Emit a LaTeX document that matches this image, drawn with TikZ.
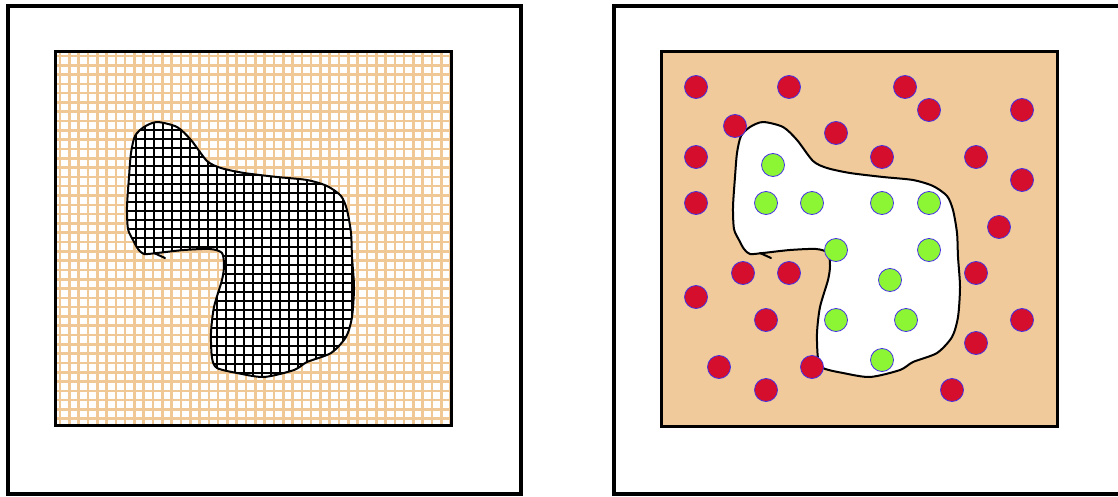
\documentclass[tikz,border=0pt]{standalone}

\definecolor{sand}{RGB}{240,202,154}
\definecolor{gridtan}{RGB}{240,200,150}
\definecolor{dotred}{RGB}{212,14,44}
\definecolor{dotgreen}{RGB}{140,246,52}
\definecolor{rimblue}{RGB}{70,50,230}

\tikzset{
  frame/.style={line width=3.8pt},
  innerbox/.style={line width=3pt},
  blobline/.style={line width=2pt, line join=round, line cap=round},
  tanline/.style={gridtan, line width=2.6pt},
  blackline/.style={line width=1.7pt},
  reddot/.style={fill=dotred, draw=rimblue, line width=0.8pt},
  greendot/.style={fill=dotgreen, draw=rimblue, line width=0.8pt},
  blob/.style={insert path={plot[smooth cycle, tension=0.45] coordinates {
    (763,122) (783,127) (797,140) (813,161) (827,168) (850,173) (883,177)
    (913,180) (933,186) (947,196) (953,210) (957,233) (958,257) (960,287)
    (958,317) (952,337) (937,353) (913,362) (900,370) (870,377) (843,373)
    (823,368) (818,358) (817,333) (820,307) (828,280) (830,266) (828,253)
    (816,249) (790,250) (763,253) (750,254) (744,249) (739,240) (734,229)
    (733,207) (735,177) (737,153) (741,136) (750,127)}}}
}

\begin{document}
\begin{tikzpicture}[x=1pt, y=-1pt]
    \useasboundingbox (0,0) rectangle (1118,497);

    % left panel: grid cells
    \draw[frame] (8,6) rectangle (521,494);
    \begin{scope}
        \clip (55,52) rectangle (451,425);
        \foreach \k in {0,...,42} \draw[tanline] ({60+9.3*\k},52) -- ++(0,373);
        \foreach \k in {0,...,40} \draw[tanline] (55,{56+9.3*\k}) -- ++(396,0);
    \end{scope}
    \begin{scope}[shift={(-606,0)}]
        \begin{scope}
            \clip[blob];
            \fill[white] (700,100) rectangle (1000,400);
            \foreach \k in {0,...,27} \draw[blackline] ({733+9*\k},110) -- ++(0,280);
            \foreach \k in {0,...,31} \draw[blackline] (720,{121+9*\k}) -- ++(260,0);
        \end{scope}
        \draw[blobline, blob];
        \draw[blobline] (760,253) -- (771,258);
    \end{scope}
    \draw[innerbox] (55,52) rectangle (451,425);

    % right panel: particles
    \draw[frame] (1125,6) -| (614,494) -- (1125,494);
    \fill[sand] (661,52) rectangle (1057,426);
    \fill[white, blob];
    \draw[blobline, blob];
    \draw[blobline] (760,253) -- (771,258);

    \foreach \x/\y in {696/87, 789/87, 905/87, 929/110, 1022/110, 735/126,
        836/133, 696/157, 882/157, 976/157, 1022/180, 696/203, 999/227,
        743/273, 789/273, 976/273, 696/297, 766/320, 1022/320, 976/343,
        719/367, 812/367, 766/390, 952/390}
        \draw[reddot] (\x,\y) circle (11.5);

    \foreach \x/\y in {773/165, 766/203, 812/203, 882/203, 929/203, 836/250,
        929/250, 890/280, 836/320, 906/320, 882/360}
        \draw[greendot] (\x,\y) circle (11.5);

    \draw[innerbox] (661,52) rectangle (1057,426);
\end{tikzpicture}
\end{document}
